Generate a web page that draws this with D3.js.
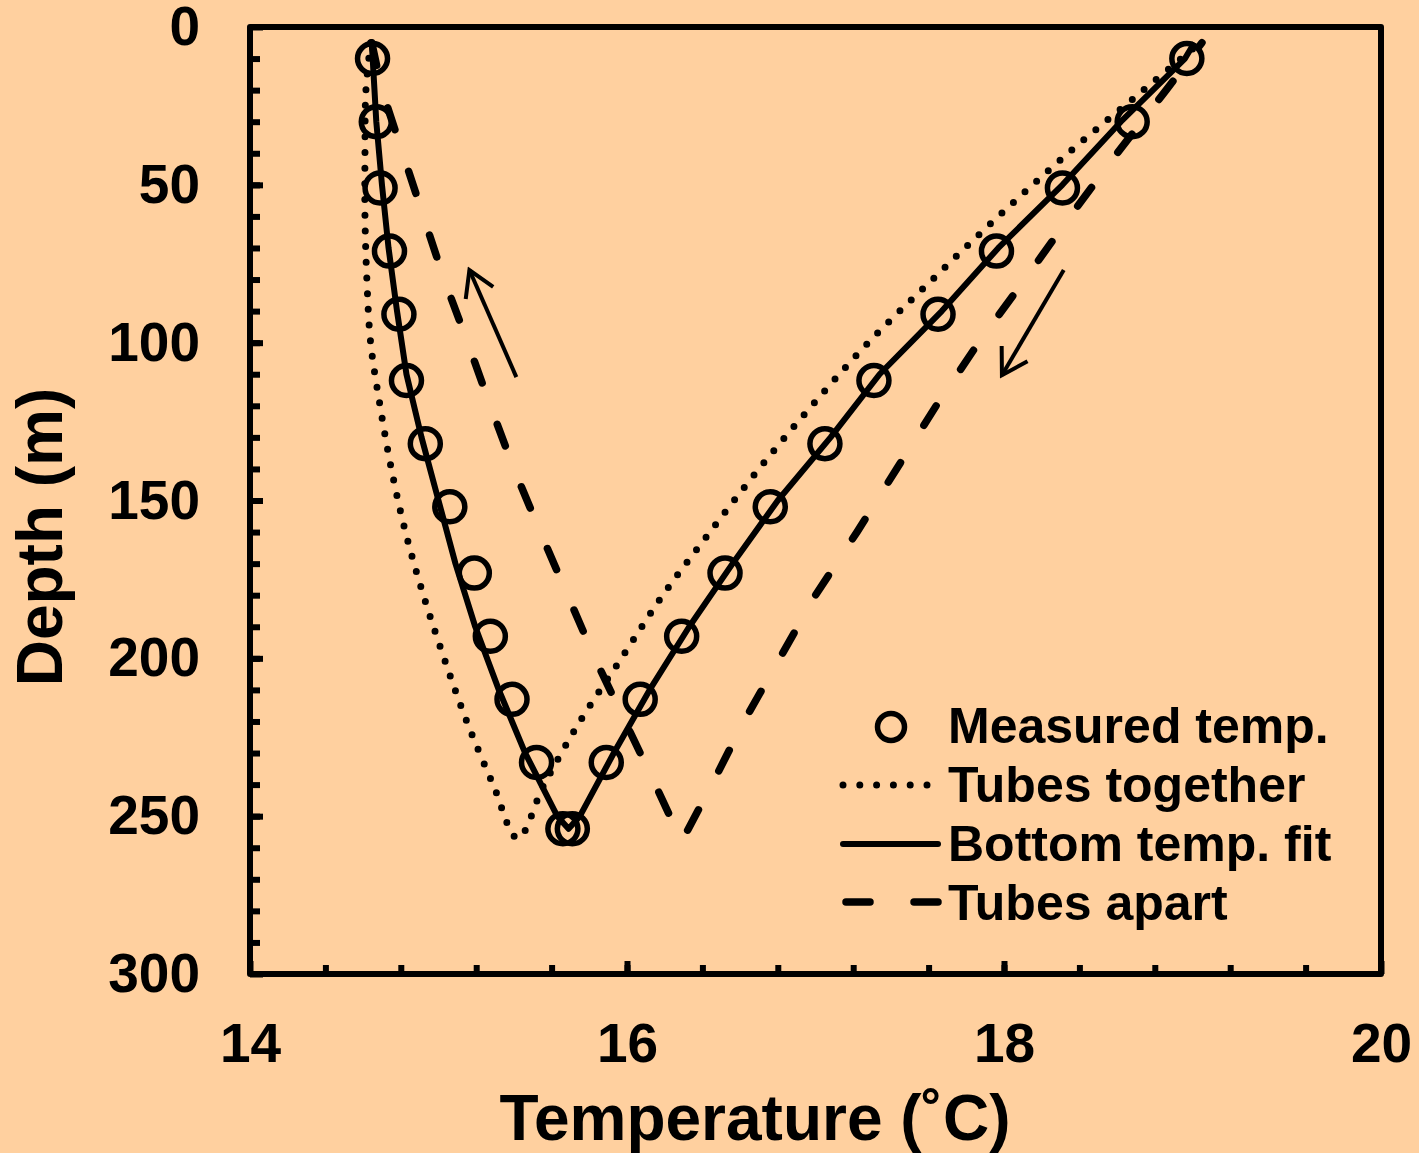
<!DOCTYPE html>
<html>
<head>
<meta charset="utf-8">
<script src="https://cdn.jsdelivr.net/npm/d3@7"></script>
<style>
  body { margin: 0; background: #FFD09F; }
  text { font-family: "Liberation Sans", Arial, sans-serif; font-weight: bold; fill: #000; }
</style>
</head>
<body>
<script>
// measured temperatures (circles): left branch going down, right branch coming up
let measuredDepth = [10, 30, 51, 71, 91, 112, 132, 152, 173, 193, 213, 233, 254];
let measuredLeft  = [14.65, 14.67, 14.69, 14.74, 14.79, 14.83, 14.93, 15.06, 15.19, 15.275, 15.39, 15.52, 15.66];
let measuredRight = [18.97, 18.68, 18.31, 17.96, 17.65, 17.31, 17.05, 16.76, 16.52, 16.29, 16.07, 15.89, 15.71];

// bottom temp. fit (solid)
let fitDepth = [5, 30, 50, 70, 90, 110, 130, 150, 170, 190, 210, 230, 250, 254, 250, 230, 210, 190, 170, 150, 130, 110, 90, 70, 50, 30, 10, 5];
let fitTemp  = [14.646, 14.67, 14.70, 14.735, 14.78, 14.83, 14.91, 15.0, 15.09, 15.195, 15.32, 15.46, 15.63, 15.69,
                15.75, 15.93, 16.12, 16.33, 16.56, 16.80, 17.08, 17.34, 17.67, 17.97, 18.31, 18.62, 18.96, 19.01];

// tubes together (dotted)
let togetherDepth = [5, 20, 40, 60, 80, 100, 120, 140, 160, 180, 200, 220, 240, 257, 240, 220, 200, 180, 160, 140, 120, 100, 80, 60, 40, 20, 7];
let togetherTemp  = [14.64, 14.615, 14.61, 14.61, 14.62, 14.64, 14.69, 14.75, 14.825, 14.92, 15.03, 15.15, 15.29, 15.42,
                     15.56, 15.75, 15.97, 16.19, 16.44, 16.70, 16.98, 17.28, 17.62, 17.97, 18.34, 18.74, 19.0];

// tubes apart (dashed)
let apartDepth = [5, 20, 40, 60, 80, 100, 120, 140, 160, 180, 200, 220, 240, 258, 240, 220, 200, 180, 160, 140, 120, 100, 80, 60, 40, 20, 5];
let apartTemp  = [14.646, 14.70, 14.81, 14.92, 15.03, 15.155, 15.275, 15.40, 15.54, 15.685, 15.83, 15.99, 16.15, 16.29,
                  16.45, 16.62, 16.81, 17.00, 17.22, 17.43, 17.64, 17.865, 18.11, 18.35, 18.60, 18.86, 19.05];

// arrows [temp, depth] from -> to
let arrows = [
  {from: [15.413, 110.9], to: [15.164, 77]},
  {from: [18.317, 77], to: [17.989, 110.3]}
];

let xTicks = [14, 16, 18, 20];
let yTicks = [0, 50, 100, 150, 200, 250, 300];

let w = 1419, h = 1153;
let pLeft = 250, pRight = 1381, pTop = 27, pBottom = 974;

let svg = d3.select('body').append('svg')
    .attr('width', w)
    .attr('height', h)

svg.append('rect').attr('width', w).attr('height', h).attr('fill', '#FFD09F')

let x = d3.scaleLinear().domain([14, 20]).range([pLeft, pRight])
let y = d3.scaleLinear().domain([0, 300]).range([pTop, pBottom])

// minor ticks
svg.append('g')
    .attr('transform', `translate(0,${pBottom})`)
    .call(d3.axisBottom(x).tickValues(d3.range(14.4, 20, 0.4)).tickSize(-9).tickFormat(''))
svg.append('g')
    .attr('transform', `translate(${pLeft},0)`)
    .call(d3.axisLeft(y).tickValues(d3.range(10, 300, 10)).tickSize(-10).tickFormat(''))

// major ticks + labels
let xAxis = svg.append('g')
    .attr('transform', `translate(0,${pBottom})`)
    .call(d3.axisBottom(x).tickValues(xTicks).tickSize(-13).tickPadding(49).tickFormat(d3.format('d')))
let yAxis = svg.append('g')
    .attr('transform', `translate(${pLeft},0)`)
    .call(d3.axisLeft(y).tickValues(yTicks).tickSize(-13).tickPadding(50).tickFormat(d3.format('d')))

svg.selectAll('.domain').remove()
svg.selectAll('.tick line').attr('stroke', '#000').attr('stroke-width', 6)
svg.selectAll('.tick text').style('font-size', '55px').style('font-family', '"Liberation Sans", Arial, sans-serif').style('font-weight', 'bold')

// frame
svg.append('rect')
    .attr('x', pLeft).attr('y', pTop)
    .attr('width', pRight - pLeft).attr('height', pBottom - pTop)
    .attr('fill', 'none').attr('stroke', '#000').attr('stroke-width', 6)
    .attr('stroke-linejoin', 'round')

svg.append('clipPath').attr('id', 'clip')
    .append('rect').attr('x', pLeft).attr('y', pTop).attr('width', pRight - pLeft).attr('height', pBottom - pTop)

let plot = svg.append('g').attr('clip-path', 'url(#clip)')

let line = d3.line().x(d => x(d[0])).y(d => y(d[1])).curve(d3.curveCatmullRom.alpha(0.5))
let lineV = d3.line().x(d => x(d[0])).y(d => y(d[1])).curve(d3.curveLinear)
let zip = (t, d) => t.map((v, i) => [v, d[i]])

// tubes together
plot.append('path')
    .attr('d', line(zip(togetherTemp, togetherDepth)))
    .attr('fill', 'none').attr('stroke', '#000').attr('stroke-width', 7)
    .attr('stroke-linecap', 'round').attr('stroke-dasharray', '0,15.7')

// tubes apart
plot.append('path')
    .attr('d', lineV(zip(apartTemp, apartDepth)))
    .attr('fill', 'none').attr('stroke', '#000').attr('stroke-width', 7.5)
    .attr('stroke-linecap', 'round').attr('stroke-linejoin', 'round').attr('stroke-dasharray', '23,44')

// bottom temp fit
plot.append('path')
    .attr('d', lineV(zip(fitTemp, fitDepth)))
    .attr('fill', 'none').attr('stroke', '#000').attr('stroke-width', 6)
    .attr('stroke-linejoin', 'round')

// measured circles
let measured = zip(measuredLeft, measuredDepth).concat(zip(measuredRight, measuredDepth))
plot.selectAll('circle.dot')
    .data(measured)
    .enter()
    .append('circle')
    .attr('class', 'dot')
    .attr('cx', d => x(d[0]))
    .attr('cy', d => y(d[1]))
    .attr('r', 15)
    .attr('fill', 'none')
    .attr('stroke', '#000')
    .attr('stroke-width', 5.5)

// arrows
svg.append('defs').append('marker')
    .attr('id', 'head')
    .attr('markerUnits', 'userSpaceOnUse')
    .attr('viewBox', '-30 -20 34 40')
    .attr('markerWidth', 34).attr('markerHeight', 40)
    .attr('refX', 0).attr('refY', 0)
    .attr('orient', 'auto')
    .append('path')
    .attr('d', 'M-25,-15L0,0L-25,15')
    .attr('fill', 'none').attr('stroke', '#000').attr('stroke-width', 4)

svg.selectAll('line.arrow')
    .data(arrows)
    .enter()
    .append('line')
    .attr('class', 'arrow')
    .attr('x1', d => x(d.from[0])).attr('y1', d => y(d.from[1]))
    .attr('x2', d => x(d.to[0])).attr('y2', d => y(d.to[1]))
    .attr('stroke', '#000').attr('stroke-width', 4)
    .attr('marker-end', 'url(#head)')

// axis titles
svg.append('text')
    .text('Temperature (˚C)')
    .attr('x', 755).attr('y', 1140)
    .style('text-anchor', 'middle')
    .style('font-size', '64px')

svg.append('text')
    .text('Depth (m)')
    .attr('transform', 'translate(62,537) rotate(-90)')
    .style('text-anchor', 'middle')
    .style('font-size', '64px')

// legend
let legend = svg.append('g')
let lx1 = 843, lx2 = 938, tx = 948
let rows = [743, 802, 861, 920]

legend.append('circle').attr('cx', 891).attr('cy', rows[0] - 16).attr('r', 13.5)
    .attr('fill', 'none').attr('stroke', '#000').attr('stroke-width', 5.5)
legend.append('line').attr('x1', lx1).attr('x2', lx1 + 86).attr('y1', rows[1] - 17).attr('y2', rows[1] - 17)
    .attr('stroke', '#000').attr('stroke-width', 7).attr('stroke-linecap', 'round').attr('stroke-dasharray', '0,16.8')
legend.append('line').attr('x1', lx1).attr('x2', lx2).attr('y1', rows[2] - 17).attr('y2', rows[2] - 17)
    .attr('stroke', '#000').attr('stroke-width', 6).attr('stroke-linecap', 'round')
legend.append('line').attr('x1', lx1 + 3).attr('x2', lx2).attr('y1', rows[3] - 18).attr('y2', rows[3] - 18)
    .attr('stroke', '#000').attr('stroke-width', 7.5).attr('stroke-linecap', 'round').attr('stroke-dasharray', '24,44')

let names = ['Measured temp.', 'Tubes together', 'Bottom temp. fit', 'Tubes apart']
legend.selectAll('text')
    .data(names)
    .enter()
    .append('text')
    .text(d => d)
    .attr('x', tx)
    .attr('y', (d, i) => rows[i])
    .style('font-size', '50px')
</script>
</body>
</html>
